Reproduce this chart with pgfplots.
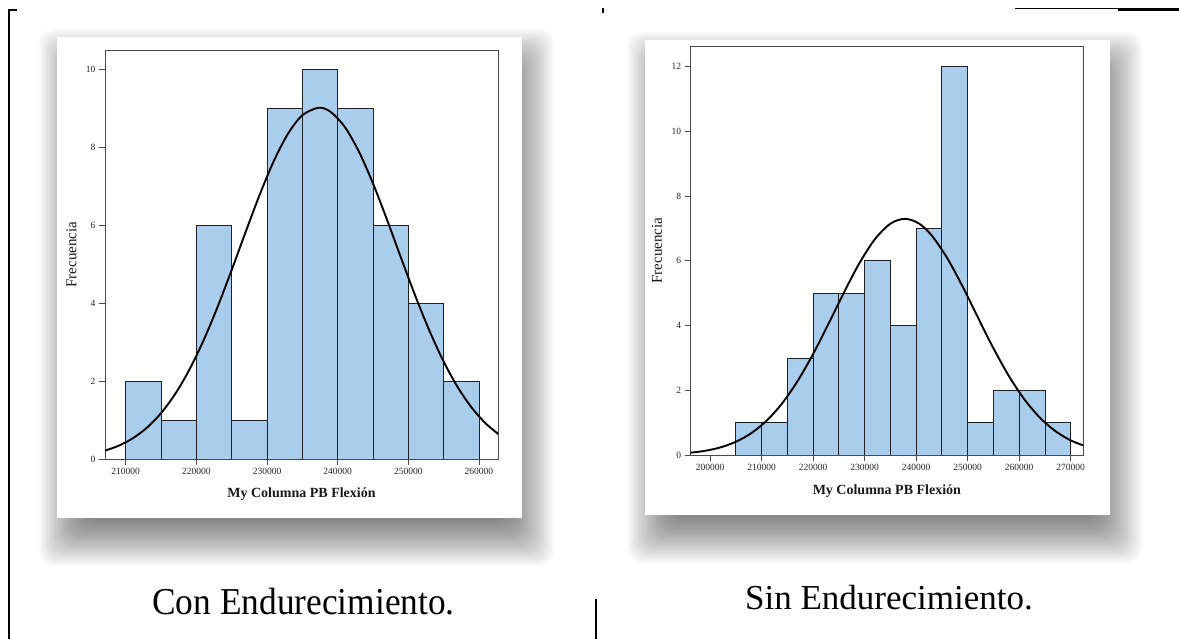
\documentclass[border=0pt]{standalone}
\usepackage{fontspec}
\setmainfont{Liberation Serif}
\usepackage{pgfplots}
\pgfplotsset{compat=1.18}
\definecolor{barfill}{HTML}{ABCDEC}
\definecolor{baredge}{HTML}{1E2228}
\definecolor{framecol}{HTML}{4A4A4A}

\pgfplotsset{
  histo/.style={
    scale only axis,
    width=393pt, height=409pt,
    ymin=0,
    axis line style={framecol, line width=0.8pt},
    tick align=outside, tick pos=left,
    major tick length=6pt,
    every tick/.style={framecol, line width=0.8pt},
    tick label style={font=\fontsize{9.5}{10}\selectfont, text=black!85},
    /pgf/number format/assume math mode=true,
    scaled x ticks=false,
    xticklabel style={/pgf/number format/fixed, /pgf/number format/1000 sep={}},
    xlabel={My Columna PB Flexión},
    ylabel={Frecuencia},
    xlabel style={font=\fontsize{14}{16}\selectfont\bfseries, text=black!90, anchor=center},
    ylabel style={font=\fontsize{15}{16}\selectfont, text=black!90, anchor=center},
    clip=true,
  },
  bars/.style={ybar interval, fill=barfill, draw=baredge, line width=0.8pt},
  curve/.style={black, line width=1.9pt, smooth, no marks},
}

% soft drop shadow under a white panel: x0 y0 x1 y1 in pt
\newcommand{\shadowpanel}[4]{%
  \foreach \k in {0,...,27}{
    \pgfmathsetmacro{\e}{28-\k*2}
    \fill[black, opacity=0.024, rounded corners=14pt]
      ({(#1+10-\e)*1pt},{(#2-20-\e)*1pt}) rectangle ({(#3+4+\e)*1pt},{(#4-20+\e)*1pt});
  }
  \fill[white] (#1pt,#2pt) rectangle (#3pt,#4pt);
}

\begin{document}
\begin{tikzpicture}
\useasboundingbox (0pt,0pt) rectangle (1179pt,639pt);
\fill[white] (0pt,0pt) rectangle (1179pt,639pt);

% page rules
\draw[line width=2pt] (9pt,0pt) -- (9pt,629pt) -- (17pt,629pt);
\draw[line width=1.2pt] (603pt,631pt) -- (603pt,626pt);
\draw[line width=1.2pt] (596pt,0pt) -- (596pt,40pt);
\draw[line width=1pt] (1015pt,630pt) -- (1118pt,630pt);
\draw[line width=2.2pt] (1118pt,629.5pt) -- (1179pt,629.5pt);

% panels with shadows
\shadowpanel{57}{121}{522}{602}
\shadowpanel{645}{124}{1110}{599}

% left histogram: Con Endurecimiento
\begin{axis}[histo,
  at={(105pt,180pt)}, anchor=south west,
  xmin=207070, xmax=262690, ymax=10.51,
  xtick={210000,220000,...,260000},
  ytick={0,2,4,6,8,10},
  xlabel style={at={(axis description cs:0.5,-0.0856)}},
  ylabel style={at={(axis description cs:-0.085,0.5)}},
]
\addplot[bars] coordinates {
  (210000,2) (215000,1) (220000,6) (225000,1) (230000,9)
  (235000,10) (240000,9) (245000,6) (250000,4) (255000,2) (260000,0)
};
\addplot[curve] coordinates {
  (207000,0.210) (209000,0.340) (211000,0.532) (213000,0.804)
  (215000,1.178) (217000,1.670) (219000,2.291) (221000,3.041)
  (223000,3.907) (225000,4.858) (227000,5.846) (229000,6.808)
  (231000,7.672) (233000,8.368) (235000,8.833) (237300,9.026)
  (239000,8.920) (241000,8.534) (243000,7.901) (245000,7.080)
  (247000,6.140) (249000,5.153) (251000,4.185) (253000,3.290)
  (255000,2.502) (257000,1.842) (259000,1.312) (261000,0.905)
  (263000,0.604)
};
\end{axis}

% right histogram: Sin Endurecimiento
\begin{axis}[histo,
  at={(690.7pt,184pt)}, anchor=south west,
  width=392.3pt,
  xmin=196250, xmax=272390, ymax=12.64,
  xtick={200000,210000,...,270000},
  ytick={0,2,4,6,8,10,12},
  xlabel style={at={(axis description cs:0.5,-0.088)}},
  ylabel style={at={(axis description cs:-0.086,0.5)}},
]
\addplot[bars] coordinates {
  (205000,1) (210000,1) (215000,3) (220000,5) (225000,5) (230000,6)
  (235000,4) (240000,7) (245000,12) (250000,1) (255000,2) (260000,2)
  (265000,1) (270000,0)
};
\addplot[curve] coordinates {
  (196000,0.067) (199000,0.128) (202000,0.234) (205000,0.407)
  (208000,0.673) (211000,1.062) (214000,1.596) (217000,2.286)
  (220000,3.119) (223000,4.056) (226000,5.024) (229000,5.930)
  (232000,6.670) (235000,7.148) (237800,7.300) (240500,7.159)
  (243000,6.789) (246000,6.095) (249000,5.214) (252000,4.249)
  (255000,3.300) (258000,2.442) (261000,1.722) (264000,1.157)
  (267000,0.741) (270000,0.452) (273000,0.263)
};
\end{axis}

% captions
\node[anchor=base, inner sep=0pt, xscale=0.93, font=\fontsize{38}{40}\selectfont]
  at (303.5pt,24pt) {Con Endurecimiento.};
\node[anchor=base, inner sep=0pt, font=\fontsize{35}{37}\selectfont]
  at (889pt,29pt) {Sin Endurecimiento.};
\end{tikzpicture}
\end{document}
